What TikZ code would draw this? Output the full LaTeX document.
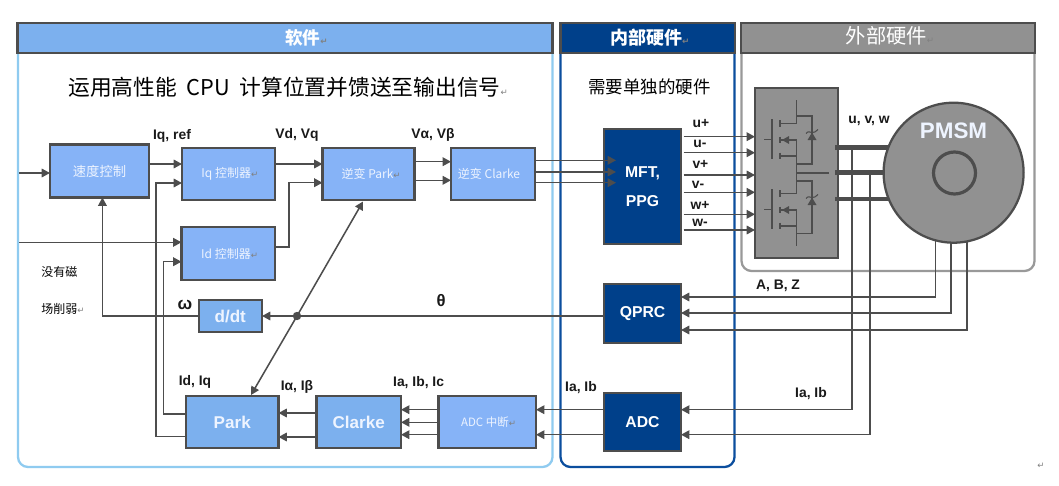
\documentclass[tikz,border=0pt]{standalone}
\usepackage{fontspec}
\setmainfont{Liberation Sans}
\newfontfamily\cjk{Noto Sans CJK SC}
\newfontfamily\dv{DejaVu Sans}
\usetikzlibrary{arrows.meta}
\definecolor{lnc}{HTML}{4D4D4D}
\definecolor{bluA}{HTML}{86B3F7}
\definecolor{bluB}{HTML}{7CB0EE}
\definecolor{navy}{HTML}{00408A}
\definecolor{gryA}{HTML}{919191}
\definecolor{softl}{HTML}{8FCBF0}
\definecolor{inl}{HTML}{0B4E9E}
\definecolor{extl}{HTML}{999999}
\definecolor{txtw}{HTML}{EEF4FF}
\newcommand\retm{{\dv\fontsize{6.5}{6.5}\selectfont\textcolor{gray}{↵}}}
\newcommand\bx[7]{\node[#1,minimum width={(#5-#3)*0.75pt},minimum height={(#6-#4)*0.75pt}] (#2) at ({(#3+#5)/2},{(#4+#6)/2}) {#7};}
\newcommand\fs[1]{\fontsize{#1}{#1}\selectfont}
\tikzset{
  x=0.75pt,y=-0.75pt,
  boxbase/.style={draw=lnc,line width=1.7pt,inner sep=0pt,outer sep=0pt,rectangle,align=center},
  lightbox/.style={boxbase,fill=bluA,text=txtw,font=\cjk\fs{9}},
  strongbox/.style={boxbase,fill=bluB,text=txtw,font=\bfseries\fs{12.8}},
  navybox/.style={boxbase,line width=1.5pt,fill=navy,text=white,font=\bfseries\fs{11.8}},
  header/.style={draw=lnc,line width=1.7pt,inner sep=0pt,outer sep=0pt,rectangle,font=\cjk\bfseries\fs{13.2},text=white},
  panel/.style={line width=1.7pt,rounded corners=10*0.75pt},
  wire/.style={draw=lnc,line width=1.15pt},
  arrow/.style={wire,-{Triangle[length=6.2pt,width=6.4pt]}},
  busline/.style={draw=lnc,line width=3.4pt},
  sym/.style={draw=lnc,line width=0.8pt},
  lab/.style={font=\bfseries\fs{10.4},inner sep=0pt,text=black!90},
  plain/.style={font=\cjk\fs{9},inner sep=0pt,text=black},
}
\begin{document}
\begin{tikzpicture}
\useasboundingbox (0,0) rectangle (1059,485);
\fill[white] (0,0) rectangle (1059,485);
% panels
\draw[panel,draw=softl] (18,40) -- (18,467) -- (552.5,467) -- (552.5,40);
\draw[panel,draw=inl] (560.5,40) -- (560.5,467) -- (734.5,467) -- (734.5,40);
\draw[panel,draw=extl] (741.5,40) -- (741.5,271) -- (1034.5,271) -- (1034.5,40);
\bx{header,fill=bluB}{hsoft}{17.5}{23}{552.5}{53}{\hspace*{32pt}软件\retm}
\bx{header,fill=navy}{hin}{560.5}{23}{735}{53}{\hspace*{3pt}\fs{13.5}内部硬件\retm}
\bx{header,fill=gryA,font=\cjk\fs{15.2}}{hext}{741}{23}{1035}{53}{\raisebox{4pt}{\hspace*{3pt}外部硬件\retm}}
\node[plain,font=\cjk\fs{16.3},anchor=west] (tmain) at (68,87.5) {运用高性能\ \ CPU\ \ 计算位置并馈送至输出信号\retm};
\node[plain,font=\cjk\fs{13.1}] (thw) at (649.5,87) {需要单独的硬件};
\node[plain,anchor=west] (tno1) at (41,272) {没有磁};
\node[plain,anchor=west] (tno2) at (41,309) {场削弱\retm};
% software boxes
\bx{lightbox,font=\cjk\fs{10}}{speed}{50}{144.5}{149}{197.5}{速度控制}
\bx{lightbox}{iq}{182}{148}{275}{200}{\raisebox{-3pt}{\hspace*{2pt}Iq 控制器\retm}}
\bx{lightbox}{id}{181.5}{227}{275}{280}{\raisebox{-3pt}{\hspace*{2pt}Id 控制器\retm}}
\bx{lightbox}{ipark}{322.5}{148}{414.5}{200}{\raisebox{-3pt}{\hspace*{4pt}逆变 Park\retm}}
\bx{lightbox}{iclarke}{451}{148}{535}{200}{\raisebox{-3pt}{逆变 Clarke\hspace*{6pt}}}
\bx{strongbox,line width=1.5pt}{ddt}{198.5}{300}{262}{332}{d/dt}
\bx{strongbox}{park}{186}{396}{278.5}{448}{\raisebox{-.5pt}{Park}}
\bx{strongbox}{clarke}{316.5}{396}{401}{448}{\raisebox{-.5pt}{Clarke}}
\bx{lightbox,font=\cjk\fs{8.6}}{adcint}{438.5}{396}{536}{448}{\raisebox{-4pt}{\hspace*{2pt}ADC 中断\retm}}
% hardware boxes
\bx{navybox}{mft}{604}{129}{681}{244}{\raisebox{0pt}{MFT,}\\[10pt]PPG}
\bx{navybox}{qprc}{604}{284}{681}{342.5}{QPRC}
\bx{navybox}{adc}{604}{393}{681}{451}{ADC}
% inverter
\bx{boxbase,fill=gryA}{inv}{755}{88}{838}{258}{}
\foreach \d in {0,70}{
  \draw[sym] (764,139.7+\d) -- (772,139.7+\d);
  \draw[sym] (772,119.3+\d) -- (772,159.3+\d);
  \draw[sym] (780,120+\d) -- (780,126.7+\d);
  \draw[sym] (780,136.7+\d) -- (780,143.3+\d);
  \draw[sym] (780,152.7+\d) -- (780,159.3+\d);
  \draw[sym] (780,123.3+\d) -- (796.7,123.3+\d);
  \draw[sym] (780,156+\d) -- (796.7,156+\d);
  \draw[sym] (780,140+\d) -- (796.7,140+\d);
  \fill[lnc] (782,140+\d) -- (789,136+\d) -- (789,144+\d) -- cycle;
}
\draw[sym] (796.7,100) -- (796.7,123.3);
\draw[sym] (796.7,140) -- (796.7,156);
\draw[sym] (796.7,156) -- (796.7,193.3);
\draw[sym] (796.7,210) -- (796.7,245.7);
\draw[sym] (796.7,116) -- (812,116) -- (812,164) -- (796.7,164);
\draw[sym] (796.7,181) -- (812,181) -- (812,233.5) -- (796.7,233.5);
\draw[sym] (796.7,173) -- (829,173);
\foreach \d in {0,65}{
  \fill[lnc] (812,132.5+\d) -- (807.5,140+\d) -- (816.5,140+\d) -- cycle;
  \draw[sym] (806,133.5+\d) .. controls (808,130.5+\d) and (810,132.5+\d) .. (812,132.5+\d) .. controls (814,132.5+\d) and (816,132+\d) .. (818,129.5+\d);
}
% motor
\node[circle,draw=lnc,line width=1.7pt,fill=gryA,minimum size=105pt,inner sep=0pt,outer sep=0pt] (motor) at (953.6,172.7) {};
\node[circle,draw=lnc,line width=2.4pt,minimum size=31.5pt,inner sep=0pt] (rotor) at (954.5,173) {};
\node[font=\bfseries\fs{16.8},text=txtw,inner sep=0pt] (tpmsm) at (953.5,131) {PMSM};
% coordinates on the phase lines
\coordinate (tapa) at (852,148);
\coordinate (tapb) at (870,172.7);
% software connectors
\coordinate (inl) at (19,173);
\coordinate (inm) at (19,242.3);
\draw[arrow] (inl) -- (speed.west |- inl);
\draw[arrow] (inm) -- (id.west |- inm);
\draw[arrow] (speed.east |- 0,164) -- (iq.west |- 0,164);
\draw[arrow] (iq.east |- 0,164) -- (ipark.west |- 0,164);
\draw[arrow] (id.east |- 0,247) -| (289,182.7) -- (ipark.west |- 0,182.7);
\draw[arrow] (ipark.east |- 0,161.7) -- (iclarke.west |- 0,161.7);
\draw[arrow] (ipark.east |- 0,180.3) -- (iclarke.west |- 0,180.3);
\draw[arrow] (park.west |- 0,436.7) -| (156,183) -- (iq.west |- 0,183);
\draw[arrow] (park.west |- 0,414) -| (163.6,261.7) -- (id.west |- 0,261.7);
\coordinate (junc) at (297,316);
\fill[lnc] (junc) circle (4.2*0.75pt);
\draw[arrow] (qprc.west |- junc) -- (ddt.east |- junc);
\draw[arrow] (ddt.west |- junc) -| ([xshift=2.2pt]speed.south);
\draw[arrow] (junc) -- (363,201.5);
\draw[arrow] (junc) -- (251,395);
\draw[arrow] (clarke.west |- 0,413) -- (park.east |- 0,413);
\draw[arrow] (clarke.west |- 0,437) -- (park.east |- 0,437);
\draw[arrow] (adcint.west |- 0,409.7) -- (clarke.east |- 0,409.7);
\draw[arrow] (adcint.west |- 0,422.3) -- (clarke.east |- 0,422.3);
\draw[arrow] (adcint.west |- 0,434.7) -- (clarke.east |- 0,434.7);
\draw[arrow] (adc.west |- 0,409.7) -- (adcint.east |- 0,409.7);
\draw[arrow] (adc.west |- 0,434.7) -- (adcint.east |- 0,434.7);
% to MFT
\foreach \yy in {160.3,172,182.7}{
  \draw[arrow,shorten >=-9pt] (iclarke.east |- 0,\yy) -- (mft.west |- 0,\yy);
}
% gate signals
\foreach \yy in {136.7,152.7,175,192.3,214.3,230}{
  \draw[arrow,shorten <=2pt] (mft.east |- 0,\yy) -- (inv.west |- 0,\yy);
}
% phases
\draw[busline] ([xshift=-2pt]inv.east |- motor.159) -- (motor.159);
\draw[busline] ([xshift=-2pt]inv.east |- motor.180) -- (motor.180);
\draw[busline] ([xshift=-2pt]inv.east |- motor.-158) -- (motor.-158);
\draw[arrow] (tapa) |- (adc.east |- 0,409.7);
\draw[arrow] (tapb) |- (adc.east |- 0,434.7);
\draw[arrow] (motor.-105) |- (qprc.east |- 0,297);
\draw[arrow] (motor.-92) |- (qprc.east |- 0,313);
\draw[arrow] (motor.-79) |- (qprc.east |- 0,330);
% labels
\node[lab] (l1) at (172,135.5) {Iq, ref};
\node[lab] (l2) at (297,134.5) {Vd, Vq};
\node[lab] (l3) at (433,134.5) {Vα, Vβ};
\node[lab] (l4) at (701,124) {u+};
\node[lab] (l5) at (700,144) {u-};
\node[lab] (l6) at (700.4,164) {v+};
\node[lab] (l7) at (698,185) {v-};
\node[lab] (l8) at (700,205) {w+};
\node[lab] (l9) at (700,223) {w-};
\node[lab] (l10) at (869,121) {u, v, w};
\node[lab] (l11) at (778,285.7) {A, B, Z};
\node[lab] (l12) at (811,394) {Ia, Ib};
\node[lab] (l13) at (581,388) {Ia, Ib};
\node[lab] (l14) at (195,381.7) {Id, Iq};
\node[lab] (l15) at (297,386.7) {Iα, Iβ};
\node[lab] (l16) at (418.6,383) {Ia, Ib, Ic};
\node[lab,font=\bfseries\fs{13}] (l17) at (185,305) {ω};
\node[lab,font=\bfseries\fs{12.5}] (l18) at (441,301) {θ};
\node[inner sep=0pt] (l19) at (1041,466) {\retm};
\end{tikzpicture}
\end{document}
